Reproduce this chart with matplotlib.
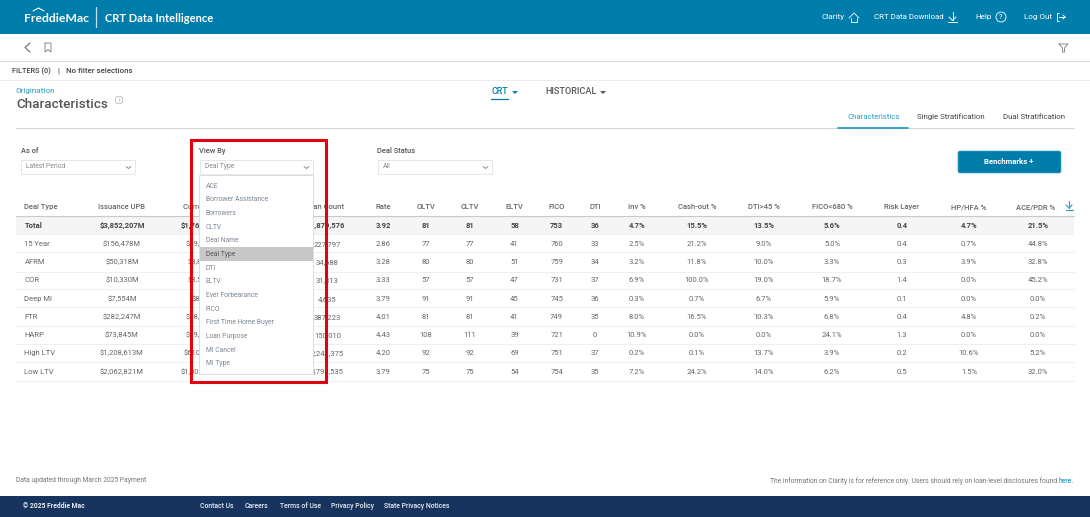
import matplotlib
matplotlib.use("Agg")
import matplotlib.pyplot as plt
from matplotlib.patches import Rectangle, Circle, Polygon, FancyBboxPatch

# ---- data ----
columns = ["Deal Type", "Issuance UPB", "Current UPB", "Loan Count", "Rate", "OLTV", "CLTV", "ELTV", "FICO", "DTI",
           "Inv %", "Cash-out %", "DTI>45 %", "FICO<680 %", "Risk Layer", "HP/HFA %", "ACE/PDR %"]
deal_types = ["Total", "15 Year", "AFRM", "COR", "Deep MI", "FTR", "HARP", "High LTV", "Low LTV"]
issuance_upb = ["$3,852,207M", "$156,478M", "$50,318M", "$10,330M", "$7,554M", "$282,247M", "$73,845M", "$1,208,613M", "$2,062,821M"]
current_visible = ["$1,76", "$89,", "$8,8", "$8,5", "$8", "$58,", "$19,", "$610", "$1,00"]
loan_count = ["1,879,576", "227,797", "34,688", "31,313", "4,635", "387,223", "150,010", "2,241,375", "3,798,535"]
rate = ["3.92", "2.86", "3.28", "3.33", "3.79", "4.01", "4.43", "4.20", "3.79"]
oltv = ["81", "77", "80", "57", "91", "81", "108", "92", "75"]
cltv = ["81", "77", "80", "57", "91", "81", "111", "92", "75"]
eltv = ["58", "41", "51", "47", "45", "41", "39", "69", "54"]
fico = ["753", "760", "759", "731", "745", "749", "721", "751", "754"]
dti = ["36", "33", "34", "37", "36", "35", "0", "37", "35"]
inv = ["4.7%", "2.5%", "3.2%", "6.9%", "0.3%", "8.0%", "10.9%", "0.2%", "7.2%"]
cash_out = ["15.5%", "21.2%", "11.8%", "100.0%", "0.7%", "16.5%", "0.0%", "0.1%", "24.2%"]
dti45 = ["13.5%", "9.0%", "10.0%", "19.0%", "6.7%", "10.3%", "0.0%", "13.7%", "14.0%"]
fico680 = ["5.6%", "5.0%", "3.3%", "18.7%", "5.9%", "6.8%", "24.1%", "3.9%", "6.2%"]
risk_layer = ["0.4", "0.4", "0.3", "1.4", "0.1", "0.4", "1.3", "0.2", "0.5"]
hp_hfa = ["4.7%", "0.7%", "3.9%", "0.0%", "0.0%", "4.8%", "0.0%", "10.6%", "1.5%"]
ace_pdr = ["21.5%", "44.8%", "32.8%", "45.2%", "0.0%", "0.2%", "0.0%", "5.2%", "32.0%"]
dropdown_items = ["ACE", "Borrower Assistance", "Borrowers", "CLTV", "Deal Name", "Deal Type", "DTI", "ELTV",
                  "Ever Forbearance", "FICO", "First Time Home Buyer", "Loan Purpose", "MI Cancel", "MI Type"]
footer_links = ["Contact Us", "Careers", "Terms of Use", "Privacy Policy", "State Privacy Notices"]

# ---- layout ----
TEAL, NAVY, BLUE = "#007DAB", "#17345F", "#2A9CC4"
plt.rcParams["font.family"] = ["Roboto", "DejaVu Sans"]
fig = plt.figure(figsize=(10.9, 5.17), dpi=100)
ax = fig.add_axes([0, 0, 1, 1])
ax.set_xlim(0, 1090); ax.set_ylim(517, 0); ax.axis("off")


def rect(x0, y0, x1, y1, fc, ec="none", lw=0, z=1):
    ax.add_patch(Rectangle((x0, y0), x1 - x0, y1 - y0, fc=fc, ec=ec, lw=lw, zorder=z))


def T(x, y, s, size=5.8, c="#555555", ha="left", w="normal", z=3, **kw):
    ax.text(x, y, s, fontsize=size, color=c, ha=ha, va="center", fontweight=w, zorder=z, **kw)


def L(xs, ys, c="#555555", lw=0.8, z=3):
    ax.plot(xs, ys, color=c, lw=lw, zorder=z, solid_capstyle="round")


# top bar
rect(0, 0, 1090, 34, TEAL)
T(24, 18.5, "FreddieMac", 8.8, "white", family="Lato", w="bold")
L([33, 38.5, 44], [11, 8, 11], "white", 0.8)
L([96, 96], [7, 27], "#BFE0EC", 0.9)
T(105, 18, "CRT Data Intelligence", 8.0, "white", family="Lato", w="bold")
T(822, 17, "Clarity", 5.9, "white")
L([849, 854, 859], [18, 13, 18], "white", 0.6)
L([851, 851, 857, 857], [18, 22, 22, 18], "white", 0.6)
T(874, 17, "CRT Data Download", 5.7, "white")
L([952.5, 952.5], [12, 20], "white", 0.7); L([949, 952.5, 956], [17, 20.5, 17], "white", 0.7); L([948, 957], [22, 22], "white", 0.7)
T(975, 17, "Help", 5.9, "white")
ax.add_patch(Circle((1001, 17), 5, fc="none", ec="white", lw=0.6, zorder=3)); T(1001, 17, "?", 5.5, "white", ha="center")
T(1024, 17, "Log Out", 5.9, "white")
L([1059, 1056.5, 1056.5, 1059], [13, 13, 21, 21], "white", 0.6); L([1059, 1065], [17, 17], "white", 0.7); L([1063, 1065, 1063], [15, 17, 19], "white", 0.7)

# nav row
L([30, 25, 30], [43, 47.5, 52], "#666666", 0.8)
L([45, 45, 48, 51, 51, 45], [43, 52, 49.5, 52, 43, 43], "#777777", 0.6)
L([1059, 1068, 1064.5, 1064.5, 1062.5, 1062.5, 1059], [44, 44, 48, 52, 52, 48, 44], "#777777", 0.6)
rect(0, 60.5, 1090, 62, "#D8D8D8")
T(12, 71, "FILTERS (0)", 5.3, "#444444", w="medium")
T(57, 71, "|", 5.6, "#444444")
T(66, 71, "No filter selections", 5.7, "#444444", w="medium")
L([0, 1090], [80, 80], "#ECECEC", 0.7)

# title row
T(16, 91, "Origination", 5.9, BLUE)
T(16, 104, "Characteristics", 9.7, "#555555", w="medium")
ax.add_patch(Circle((119, 100), 3.8, fc="none", ec="#AAAAAA", lw=0.5, zorder=3)); T(119, 100, "i", 4.2, "#AAAAAA", ha="center")
T(491, 92, "CRT", 6.4, TEAL, w="medium")
L([491, 508], [98.5, 98.5], TEAL, 0.9)
ax.add_patch(Polygon([[512, 91], [518, 91], [515, 94]], fc=TEAL, zorder=3))
T(545, 92, "HISTORICAL", 6.6, "#555555", w="medium")
ax.add_patch(Polygon([[600, 91], [606, 91], [603, 94]], fc="#555555", zorder=3))
T(847, 117, "Characteristics", 5.7, BLUE)
T(917, 117, "Single Stratification", 5.7, "#444444")
T(1003, 117, "Dual Stratification", 5.7, "#444444")
L([16, 1074], [128, 128], "#D4D4D4", 0.8)
L([838, 908], [128, 128], BLUE, 1.3, z=4)

# filter controls
for x0, x1, lab, val in [(21, 135, "As of", "Latest Period"), (200, 313, "View By", "Deal Type"), (378, 492, "Deal Status", "All")]:
    T(x0 - (0 if x0 == 21 else 1), 151, lab, 5.4, "#555555", w="medium")
    rect(x0, 160, x1, 174, "white", "#E2E2E2", 0.6)
    T(x0 + 5, 167, val, 4.9, "#8A8A8A")
    L([x1 - 9, x1 - 6.5, x1 - 4], [166.5, 168.5, 166.5], "#777777", 0.6)
ax.add_patch(FancyBboxPatch((959, 152), 101, 20, boxstyle="round,pad=1,rounding_size=2", fc=TEAL, ec="#4FA5C6", lw=0.5, zorder=2))
T(1009, 161.5, "Benchmarks +", 5.6, "white", ha="center", w="bold")

# table
row_y = [225.3, 243.7, 262, 280.3, 298.7, 317, 335, 353.3, 371.5]
row_line_y = [234.3, 252.3, 271.7, 289.3, 307.3, 326, 344, 362, 381]
centers = {"Issuance UPB": 122, "Loan Count": 327.5, "Current UPB": 204, "Rate": 383, "OLTV": 426, "CLTV": 470, "ELTV": 514.5,
           "FICO": 556.6, "DTI": 595, "Inv %": 637, "Cash-out %": 697, "DTI>45 %": 763.6, "FICO<680 %": 832,
           "Risk Layer": 902, "HP/HFA %": 969, "ACE/PDR %": 1038}
table = {"Issuance UPB": issuance_upb, "Loan Count": loan_count, "Rate": rate, "OLTV": oltv, "CLTV": cltv, "ELTV": eltv,
         "FICO": fico, "DTI": dti, "Inv %": inv, "Cash-out %": cash_out, "DTI>45 %": dti45, "FICO<680 %": fico680,
         "Risk Layer": risk_layer, "HP/HFA %": hp_hfa, "ACE/PDR %": ace_pdr}
rect(16, 216.5, 1074, 234.3, "#F5F5F5")
L([16, 1074], [216.3, 216.3], "#C9C9C9", 0.8, z=2)
for y in row_line_y:
    L([16, 1074], [y, y], "#EFEFEF", 0.7, z=2)
T(24.5, 207.3, columns[0], 5.5, "#666666", w="medium")
for col in columns[1:]:
    x = centers[col] - (2.5 if col in ("Loan Count", "ACE/PDR %") else 0)
    T(x, 207.3, col, 5.5, "#666666", ha="center", w="medium")
current_start = [181, 186, 188, 188, 192, 186, 186, 184, 181]
for i, y in enumerate(row_y):
    tot = i == 0
    c, w = ("#444444", "bold") if tot else ("#666666", "normal")
    T(24.5, y, deal_types[i], 5.5, c, w=w)
    T(current_start[i], y, current_visible[i], 5.5, c, w=w)
    for col, vals in table.items():
        T(centers[col], y, vals[i], 5.5, c, ha="center", w=w)
L([1069, 1069], [201, 208], BLUE, 0.8); L([1066, 1069, 1072], [205, 208, 205], BLUE, 0.8); L([1065.5, 1072.5], [210, 210], BLUE, 0.8)

# dropdown + highlight
rect(199, 175, 314, 375, "#DDDDDD", z=5)
rect(200, 176, 313, 374, "white", z=6)
rect(200, 247, 313, 261, "#C8C8C8", z=6)
for i, item in enumerate(dropdown_items):
    T(205.5, 186 + 13.68 * i, item, 4.9, "#555555" if item == "Deal Type" else "#7C8794", z=7)
ax.add_patch(Rectangle((190.5, 140), 135.5, 242, fc="none", ec="#E3000F", lw=2.2, zorder=8))

# footer
T(16, 481, "Data updated through March 2025 Payment", 4.9, "#777777")
T(1074, 481, "here.", 4.85, BLUE, ha="right", w="medium")
T(1057.5, 481, "The information on Clarity is for reference only. Users should rely on loan-level disclosures found", 4.9, "#777777", ha="right")
rect(0, 496, 1090, 517, NAVY)
T(23, 506.5, "© 2025 Freddie Mac", 4.85, "#E8EDF3", w="bold")
for x, s in zip([200, 245, 280, 331, 384], footer_links):
    T(x, 506.5, s, 4.95, "#E8EDF3", w="medium")

fig.savefig("out.png", dpi=100)
